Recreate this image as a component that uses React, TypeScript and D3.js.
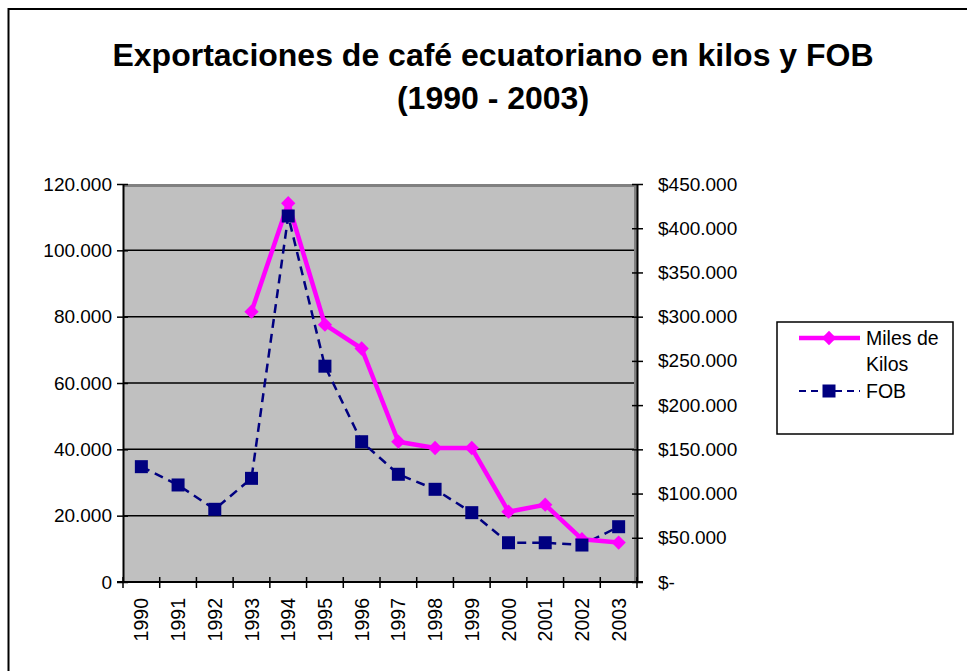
import React from 'react';
import * as d3 from 'd3';

const years = ['1990', '1991', '1992', '1993', '1994', '1995', '1996', '1997', '1998', '1999', '2000', '2001', '2002', '2003'];
const kilos: (number | null)[] = [null, null, null, 81500, 114200, 77600, 70400, 42300, 40400, 40400, 21200, 23300, 12900, 11900];
const fob = [130400, 109700, 82200, 117200, 413800, 244000, 158600, 121800, 104800, 78400, 44400, 44400, 41800, 62500];
const leftTicks = [0, 20000, 40000, 60000, 80000, 100000, 120000];
const rightTicks = [0, 50000, 100000, 150000, 200000, 250000, 300000, 350000, 400000, 450000];

const font = 'Arial, "Liberation Sans", sans-serif';
const fmt = (v: number) => (v === 0 ? '0' : d3.format(',')(v).replace(/,/g, '.'));
const fmtMoney = (v: number) => (v === 0 ? '$-' : '$' + d3.format(',')(v).replace(/,/g, '.'));

const useD3 = (render: any, deps: any[]) => {
  const ref = React.useRef<SVGSVGElement>(null);
  React.useEffect(() => {
    render(d3.select(ref.current));
  }, deps);
  return ref;
};

const renderChart = (svg: any) => {
  svg.selectAll('*').remove();
  const left = 123, right = 637, top = 184, bottom = 582;

  const x = d3.scaleBand().domain(years).range([left, right]);
  const yL = d3.scaleLinear().domain([0, 120000]).range([bottom, top]);
  const yR = d3.scaleLinear().domain([0, 450000]).range([bottom, top]);
  const cx = (d: string) => (x(d) as number) + x.bandwidth() / 2;

  // outer frame
  svg.append('rect').attr('x', 8.5).attr('y', 9).attr('width', 980).attr('height', 700)
    .attr('fill', 'white').attr('stroke', 'black').attr('stroke-width', 2);

  // title
  const title = svg.append('text').attr('text-anchor', 'middle').attr('font-family', font)
    .attr('font-weight', 'bold').attr('font-size', 32).attr('fill', 'black');
  title.append('tspan').attr('x', 493).attr('y', 66).text('Exportaciones de café ecuatoriano en kilos y FOB');
  title.append('tspan').attr('x', 493).attr('y', 109).text('(1990 - 2003)');

  // plot area
  svg.append('rect').attr('x', left).attr('y', top).attr('width', right - left).attr('height', bottom - top)
    .attr('fill', '#c0c0c0');
  svg.append('path')
    .attr('d', `M${left},${top + 1.5}H${right - 1.5}V${bottom}`)
    .attr('fill', 'none').attr('stroke', '#808080').attr('stroke-width', 3);

  // gridlines
  svg.append('g').selectAll('line').data(leftTicks.slice(1, -1)).join('line')
    .attr('x1', left).attr('x2', right - 3)
    .attr('y1', (d: number) => yL(d)).attr('y2', (d: number) => yL(d))
    .attr('stroke', 'black').attr('stroke-width', 1.5);

  // left axis
  const gl = svg.append('g').attr('transform', `translate(${left},0)`)
    .call(d3.axisLeft(yL).tickValues(leftTicks).tickFormat((d: any) => fmt(+d)).tickSizeInner(6).tickSizeOuter(0).tickPadding(5));
  gl.select('.domain').attr('stroke-width', 2);
  gl.selectAll('.tick line').attr('x2', 5).attr('x1', -6).attr('stroke-width', 1.5);
  gl.selectAll('text').attr('font-family', font).attr('font-size', 19).attr('fill', 'black');

  // right axis
  const gr = svg.append('g').attr('transform', `translate(${right},0)`)
    .call(d3.axisRight(yR).tickValues(rightTicks).tickFormat((d: any) => fmtMoney(+d)).tickSizeInner(6).tickSizeOuter(0).tickPadding(15));
  gr.select('.domain').attr('stroke-width', 2);
  gr.selectAll('.tick line').attr('x1', -5).attr('x2', 6).attr('stroke-width', 1.5);
  gr.selectAll('text').attr('font-family', font).attr('font-size', 19).attr('fill', 'black');

  // bottom axis
  const gb = svg.append('g').attr('transform', `translate(0,${bottom})`);
  gb.append('line').attr('x1', left - 6).attr('x2', right + 6).attr('stroke', 'black').attr('stroke-width', 2);
  gb.selectAll('.tk').data([...years.map(d => x(d) as number), right]).join('line')
    .attr('x1', (d: number) => d).attr('x2', (d: number) => d).attr('y1', -5).attr('y2', 6)
    .attr('stroke', 'black').attr('stroke-width', 1.5);
  gb.selectAll('.lb').data(years).join('text')
    .attr('transform', (d: string) => `translate(${cx(d) + 7},16) rotate(-90)`)
    .attr('text-anchor', 'end').attr('font-family', font).attr('font-size', 19.5).attr('fill', 'black')
    .text((d: string) => d);

  // FOB line
  const lineR = d3.line<number>().x((_, i) => cx(years[i])).y(d => yR(d));
  svg.append('path').attr('d', lineR(fob)).attr('fill', 'none').attr('stroke', '#000080')
    .attr('stroke-width', 2.5).attr('stroke-dasharray', '9,6');

  // Kilos line
  const lineL = d3.line<number | null>().defined(d => d !== null).x((_, i) => cx(years[i])).y(d => yL(d as number));
  svg.append('path').attr('d', lineL(kilos)).attr('fill', 'none').attr('stroke', '#ff00ff')
    .attr('stroke-width', 4.5).attr('stroke-linejoin', 'round');

  const diamond = d3.symbol().type(d3.symbolDiamond2).size(130);
  svg.append('g').selectAll('path').data(years.map((y, i) => [y, kilos[i]]).filter(d => d[1] !== null)).join('path')
    .attr('d', diamond).attr('fill', '#ff00ff')
    .attr('transform', (d: any) => `translate(${cx(d[0])},${yL(d[1])})`);

  svg.append('g').selectAll('rect').data(fob).join('rect')
    .attr('x', (_: any, i: number) => cx(years[i]) - 6.5).attr('y', (d: number) => yR(d) - 6.5)
    .attr('width', 13).attr('height', 13).attr('fill', '#000080');

  // legend
  const lg = svg.append('g');
  lg.append('rect').attr('x', 777).attr('y', 322).attr('width', 176).attr('height', 112)
    .attr('fill', 'white').attr('stroke', 'black').attr('stroke-width', 1.5);
  lg.append('line').attr('x1', 799).attr('x2', 860).attr('y1', 338).attr('y2', 338)
    .attr('stroke', '#ff00ff').attr('stroke-width', 4.5);
  lg.append('path').attr('d', diamond).attr('fill', '#ff00ff').attr('transform', 'translate(829,338)');
  lg.append('line').attr('x1', 799).attr('x2', 860).attr('y1', 391).attr('y2', 391)
    .attr('stroke', '#000080').attr('stroke-width', 2).attr('stroke-dasharray', '7,5');
  lg.append('rect').attr('x', 822.5).attr('y', 384.5).attr('width', 13).attr('height', 13).attr('fill', '#000080');
  const lt = lg.append('text').attr('font-family', font).attr('font-size', 19.5).attr('fill', 'black');
  lt.append('tspan').attr('x', 866).attr('y', 345).text('Miles de');
  lt.append('tspan').attr('x', 866).attr('y', 371).text('Kilos');
  lg.append('text').attr('font-family', font).attr('font-size', 19.5).attr('fill', 'black')
    .attr('x', 866).attr('y', 398).text('FOB');
};

const App: React.FC = () => {
  const ref = useD3(renderChart, []);
  return (
    <svg
      ref={ref}
      width={967}
      height={671}
      style={{ position: 'absolute', left: 0, top: 0, background: 'white' }}
    />
  );
};

export default App;
